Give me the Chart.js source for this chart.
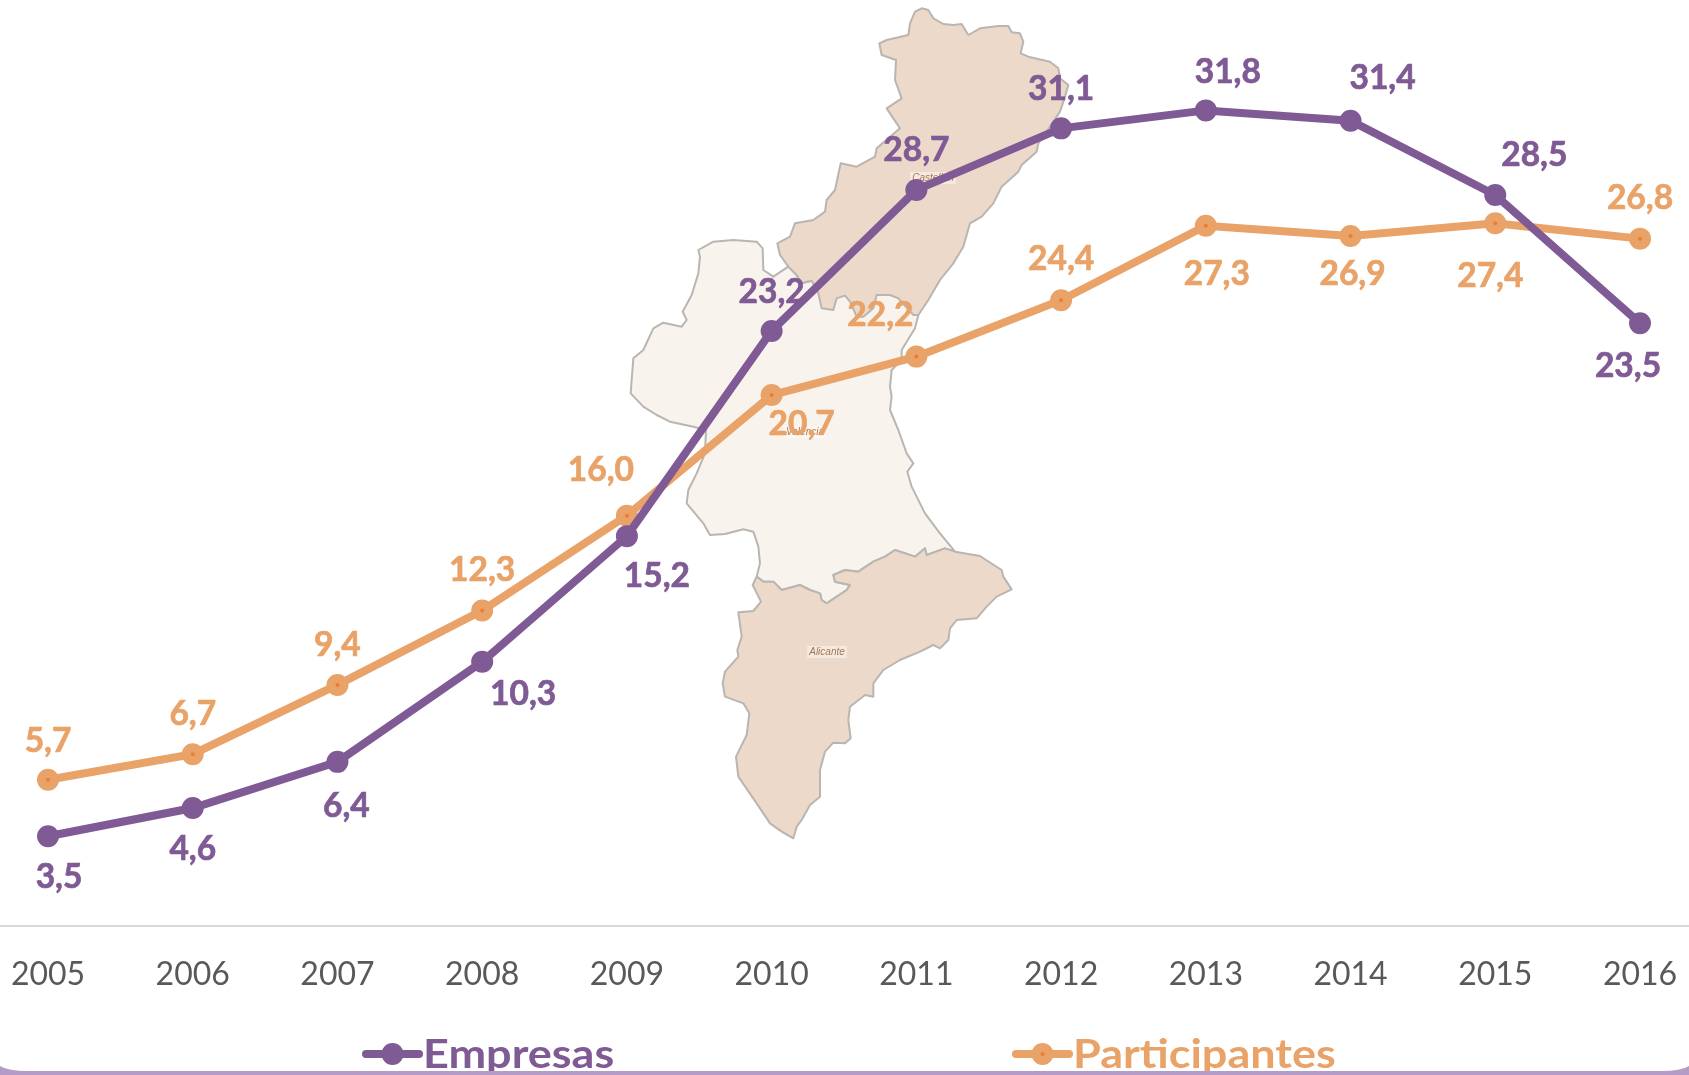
<!DOCTYPE html>
<html>
<head>
<meta charset="utf-8">
<title>Empresas y participantes</title>
<script src="https://cdn.jsdelivr.net/npm/chart.js@4/dist/chart.umd.js"></script>
<style>
    html, body { margin: 0; padding: 0; background: #fff; overflow: hidden; }
    canvas { display: block; }
</style>
</head>
<body>
<canvas id="chart" width="1689" height="1075"></canvas>
<script>
const years = ['2005', '2006', '2007', '2008', '2009', '2010', '2011', '2012', '2013', '2014', '2015', '2016'];
const empresas = [3.5, 4.6, 6.4, 10.3, 15.2, 23.2, 28.7, 31.1, 31.8, 31.4, 28.5, 23.5];
const participantes = [5.7, 6.7, 9.4, 12.3, 16.0, 20.7, 22.2, 24.4, 27.3, 26.9, 27.4, 26.8];

// desplazamiento de cada etiqueta respecto a su punto (px)
const empresasLabelDx = [11, 0, 9, 41, 30, 0, 0, 0, 22, 32, 39, -12];
const empresasLabelDy = [41, 41, 44, 32, 40, -39, -40, -39, -38, -42, -40, 43];
const participantesLabelDx = [0, 0, 0, 0, -26, 30, -36, 0, 11, 2, -5, 0];
const participantesLabelDy = [-39, -40, -40, -40, -45, 29, -41, -41, 48, 38, 53, -40];

const PURPLE = '#7f5a94';
const ORANGE = '#e9a267';
const ORANGE_DOT = '#ed7d31';
const FONT = 'Lato, Carlito, sans-serif';

// contornos del mapa de fondo, trazados sobre el recorte (x = 600 + cx / 3, y = oy + cy / 3)
const castellonOutline = [
    [965, 25], [985, 30], [1000, 55], [1030, 72], [1060, 75], [1085, 72], [1105, 105], [1140, 85], [1195, 78],
    [1225, 78], [1235, 97], [1260, 100], [1270, 125], [1262, 160], [1285, 170], [1350, 185], [1375, 205],
    [1380, 235], [1405, 255], [1395, 290], [1380, 335], [1350, 380], [1315, 430], [1310, 455], [1265, 495],
    [1255, 515], [1205, 560], [1180, 610], [1145, 650], [1110, 670], [1090, 740], [1060, 790], [1020, 840],
    [985, 900], [955, 945], [940, 945], [895, 895], [870, 885], [830, 885], [820, 925], [790, 950], [770, 950],
    [750, 905], [735, 887], [710, 895], [700, 930], [665, 925], [655, 880], [635, 842], [620, 845], [605, 850],
    [590, 825], [565, 800], [540, 765], [532, 730], [570, 710], [585, 670], [640, 660], [675, 635], [680, 600],
    [705, 570], [722, 490], [770, 500], [825, 470], [830, 445], [900, 385], [860, 325], [905, 295], [885, 240],
    [888, 180], [845, 165], [838, 130], [860, 120], [925, 105], [930, 70], [945, 35]
];
const valenciaOutline = [
    [295, 750], [340, 725], [400, 720], [470, 725], [488, 745], [490, 810], [520, 830], [565, 800], [590, 825],
    [605, 850], [635, 842], [655, 860], [760, 860], [900, 860], [955, 945], [945, 985], [905, 1050], [905, 1080],
    [875, 1110], [870, 1160],
    [875, 1190], [870, 1230], [895, 1290], [920, 1360], [940, 1390], [922, 1415], [935, 1460], [975, 1540],
    [1020, 1600], [1065, 1655], [1035, 1645], [980, 1665], [975, 1645], [945, 1670], [885, 1650], [855, 1670],
    [820, 1685], [775, 1715], [735, 1710], [700, 1725], [705, 1745], [750, 1755], [740, 1770], [680, 1810],
    [665, 1800], [660, 1780], [630, 1770], [600, 1755], [545, 1770], [520, 1745], [490, 1745], [470, 1730],
    [480, 1690], [475, 1640], [460, 1595], [430, 1588], [375, 1602], [330, 1605], [310, 1570], [260, 1510],
    [265, 1470], [290, 1420], [315, 1360], [318, 1290], [280, 1280], [210, 1265], [170, 1245], [130, 1220],
    [92, 1180], [100, 1075], [130, 1050], [160, 985], [190, 968], [245, 980], [260, 960], [248, 935], [275, 885],
    [295, 820], [300, 770]
];
const alicanteOutline = [
    [1065, 365], [1140, 378], [1205, 420], [1210, 440], [1235, 478], [1190, 500], [1160, 530], [1130, 565],
    [1070, 570], [1050, 595], [1045, 630], [1020, 655], [1000, 645], [960, 665], [900, 690], [850, 720], [820, 760],
    [820, 800], [795, 795], [750, 830], [745, 870], [752, 925], [735, 940], [700, 938], [675, 965], [660, 1020],
    [660, 1100], [630, 1125], [605, 1170], [590, 1190], [580, 1225], [545, 1205], [510, 1180], [470, 1120],
    [415, 1040], [408, 980], [440, 915], [448, 850], [430, 820], [375, 800], [368, 760], [375, 725], [415, 680],
    [412, 660], [425, 620], [415, 547], [460, 543], [483, 515], [458, 465], [470, 440], [490, 455], [520, 455],
    [545, 480], [600, 465], [630, 480], [660, 490], [665, 510], [680, 520], [740, 480], [750, 465], [705, 455],
    [700, 435], [735, 420], [775, 425], [820, 395], [855, 380], [885, 360], [945, 380], [975, 355], [980, 375],
    [1035, 355]
];

function drawRegion(ctx, outline, oy, fill) {
    ctx.beginPath();
    outline.forEach(([cx, cy], i) => {
        const x = 600 + cx / 3;
        const y = oy + cy / 3;
        if (i === 0) ctx.moveTo(x, y);
        else ctx.lineTo(x, y);
    });
    ctx.closePath();
    ctx.fillStyle = fill;
    ctx.fill();
    ctx.strokeStyle = '#b9b5b1';
    ctx.lineWidth = 2;
    ctx.lineJoin = 'round';
    ctx.stroke();
}

function drawRegionName(ctx, name, x, y) {
    ctx.font = 'italic 10px "Liberation Sans", sans-serif';
    ctx.textAlign = 'center';
    ctx.textBaseline = 'middle';
    const w = ctx.measureText(name).width + 4;
    ctx.fillStyle = 'rgba(255,255,255,0.45)';
    ctx.fillRect(x - w / 2, y - 6, w, 12);
    ctx.fillStyle = '#a9774f';
    ctx.fillText(name, x, y);
}

const mapPlugin = {
    id: 'mapBackground',
    beforeDatasetsDraw(chart) {
        const { ctx, width, scales } = chart;
        ctx.save();
        drawRegion(ctx, valenciaOutline, 0, '#f9f3ee');
        drawRegion(ctx, castellonOutline, 0, '#ecd9ca');
        drawRegion(ctx, alicanteOutline, 430, '#ecd9ca');
        drawRegionName(ctx, 'Castellón', 933, 178);
        drawRegionName(ctx, 'Valencia', 805, 432);
        drawRegionName(ctx, 'Alicante', 827, 652);

        // linea base a todo el ancho
        const y0 = scales.y.getPixelForValue(0);
        ctx.strokeStyle = '#d9d9d9';
        ctx.lineWidth = 2;
        ctx.beginPath();
        ctx.moveTo(0, y0);
        ctx.lineTo(width, y0);
        ctx.stroke();
        ctx.restore();
    }
};

function drawValueLabels(chart, datasetIndex, dx, dy) {
    const { ctx } = chart;
    const dataset = chart.data.datasets[datasetIndex];
    const points = chart.getDatasetMeta(datasetIndex).data;
    ctx.fillStyle = dataset.borderColor;
    ctx.strokeStyle = dataset.borderColor;
    ctx.lineWidth = 0.7;
    points.forEach((pt, i) => {
        const text = dataset.data[i].toFixed(1).replace('.', ',');
        ctx.fillText(text, pt.x + dx[i], pt.y + dy[i]);
        ctx.strokeText(text, pt.x + dx[i], pt.y + dy[i]);
    });
}

const labelPlugin = {
    id: 'valueLabels',
    afterDatasetsDraw(chart) {
        const { ctx } = chart;
        ctx.save();
        ctx.font = 'bold 33.5px ' + FONT;
        ctx.textAlign = 'center';
        ctx.textBaseline = 'middle';
        drawValueLabels(chart, 1, participantesLabelDx, participantesLabelDy);
        drawValueLabels(chart, 0, empresasLabelDx, empresasLabelDy);
        ctx.restore();
    }
};

function drawLegendItem(chart, datasetIndex, x) {
    const { ctx } = chart;
    const dataset = chart.data.datasets[datasetIndex];
    const y = 1054;
    ctx.strokeStyle = dataset.borderColor;
    ctx.lineWidth = 8;
    ctx.lineCap = 'round';
    ctx.beginPath();
    ctx.moveTo(x, y);
    ctx.lineTo(x + 53, y);
    ctx.stroke();
    ctx.fillStyle = dataset.borderColor;
    ctx.beginPath();
    ctx.arc(x + 26.5, y, 11, 0, Math.PI * 2);
    ctx.fill();
    if (dataset.pointBackgroundColor !== dataset.borderColor) {
        ctx.fillStyle = dataset.pointBackgroundColor;
        ctx.beginPath();
        ctx.arc(x + 26.5, y, 2, 0, Math.PI * 2);
        ctx.fill();
    }
    // el texto de la leyenda va algo ensanchado, como en el original
    ctx.save();
    ctx.translate(x + 57, 1068);
    ctx.scale(1.125, 1);
    ctx.fillStyle = dataset.borderColor;
    ctx.font = 'bold 40px ' + FONT;
    ctx.textAlign = 'left';
    ctx.textBaseline = 'alphabetic';
    ctx.fillText(dataset.label, 0, 0);
    ctx.restore();
}

const legendPlugin = {
    id: 'bottomLegend',
    afterDraw(chart) {
        const { ctx, width, height } = chart;
        ctx.save();
        drawLegendItem(chart, 0, 366);
        drawLegendItem(chart, 1, 1016);

        // franja inferior de la tarjeta
        ctx.fillStyle = '#b49cc6';
        ctx.beginPath();
        ctx.moveTo(0, height);
        ctx.lineTo(0, 1066);
        ctx.quadraticCurveTo(8, 1071, 28, 1071);
        ctx.lineTo(width - 28, 1071);
        ctx.quadraticCurveTo(width - 8, 1071, width, 1066);
        ctx.lineTo(width, height);
        ctx.closePath();
        ctx.fill();
        ctx.restore();
    }
};

new Chart(document.getElementById('chart'), {
    type: 'line',
    data: {
        labels: years,
        datasets: [
            {
                label: 'Empresas',
                data: empresas,
                borderColor: PURPLE,
                borderWidth: 8,
                pointRadius: 8.5,
                pointBorderWidth: 5,
                pointBackgroundColor: PURPLE,
                pointBorderColor: PURPLE,
                tension: 0,
                clip: false
            },
            {
                label: 'Participantes',
                data: participantes,
                borderColor: ORANGE,
                borderWidth: 8,
                pointRadius: 6.5,
                pointBorderWidth: 9,
                pointBackgroundColor: ORANGE_DOT,
                pointBorderColor: ORANGE,
                tension: 0,
                clip: false
            }
        ]
    },
    options: {
        responsive: false,
        animation: false,
        layout: {
            padding: { left: 48, right: 49, top: 3, bottom: 83 }
        },
        plugins: {
            legend: { display: false },
            tooltip: { enabled: false }
        },
        scales: {
            x: {
                type: 'category',
                offset: false,
                grid: { display: false, drawTicks: false },
                border: { display: false },
                ticks: {
                    autoSkip: false,
                    maxRotation: 0,
                    padding: 29,
                    color: '#595959',
                    font: { family: FONT, size: 32 }
                },
                afterFit(scale) {
                    scale.paddingLeft = 0;
                    scale.paddingRight = 0;
                    scale.paddingTop = 0;
                    scale.paddingBottom = 0;
                    scale.height = 66;
                }
            },
            y: {
                display: false,
                min: 0,
                max: 35.5
            }
        }
    },
    plugins: [mapPlugin, labelPlugin, legendPlugin]
});
</script>
</body>
</html>
